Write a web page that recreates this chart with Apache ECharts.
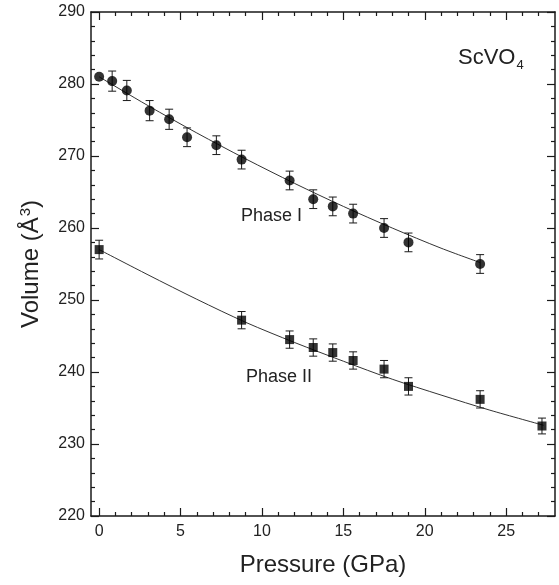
<!DOCTYPE html>
<html>
<head>
<meta charset="utf-8">
<script src="https://cdn.jsdelivr.net/npm/echarts@6/dist/echarts.min.js"></script>
<style>
html,body{margin:0;padding:0;background:#fff;}
#chart{width:559px;height:585px;}
</style>
</head>
<body>
<div id="chart"></div>
<script>
// Phase I (circles)
var phase1P = [0, 0.8, 1.7, 3.1, 4.3, 5.4, 7.2, 8.75, 11.7, 13.15, 14.35, 15.6, 17.5, 19.0, 23.4];
var phase1V = [281.0, 280.4, 279.1, 276.3, 275.1, 272.6, 271.5, 269.5, 266.6, 264.0, 263.0, 262.0, 260.0, 258.0, 255.0];
var phase1Err = [0, 1.4, 1.4, 1.4, 1.4, 1.3, 1.3, 1.3, 1.3, 1.3, 1.3, 1.3, 1.3, 1.3, 1.3];
// Phase II (squares)
var phase2P = [0, 8.75, 11.7, 13.15, 14.35, 15.6, 17.5, 19.0, 23.4, 27.2];
var phase2V = [257.0, 247.2, 244.5, 243.4, 242.7, 241.6, 240.4, 238.0, 236.2, 232.5];
var phase2Err = [1.3, 1.2, 1.2, 1.2, 1.2, 1.2, 1.2, 1.2, 1.2, 1.1];
// Fitted curves
var fit1P = [0, 3, 6, 9, 12, 15, 18, 21, 23.4];
var fit1V = [281.0, 277.0, 273.2, 269.6, 266.2, 263.0, 260.0, 257.2, 255.2];
var fit2P = [0, 3, 6, 9, 12, 15, 18, 21, 24, 27.3];
var fit2V = [257.0, 253.5, 250.1, 246.9, 244.1, 241.5, 239.0, 236.8, 234.7, 232.6];
// Axis ticks
var xMajor = [0, 5, 10, 15, 20, 25];
var xMinor = [1, 2, 3, 4, 6, 7, 8, 9, 11, 12, 13, 14, 16, 17, 18, 19, 21, 22, 23, 24, 26, 27];
var xLabels = ['0', '5', '10', '15', '20', '25'];

function zip(a, b) { return a.map(function (v, i) { return [v, b[i]]; }); }
function zipErr(a, b, e) { return a.map(function (v, i) { return [v, b[i] - e[i], b[i] + e[i]]; }); }

var ink = '#1a1a1a';
var textCol = '#222';
var font = 'Liberation Sans, Arial, Helvetica, sans-serif';

function errRender(params, api) {
  var x = api.value(0);
  var lo = api.coord([x, api.value(1)]);
  var hi = api.coord([x, api.value(2)]);
  if (Math.abs(hi[1] - lo[1]) < 1) return null;
  var w = 4;
  var st = { stroke: ink, lineWidth: 1 };
  return {
    type: 'group',
    children: [
      { type: 'line', shape: { x1: lo[0], y1: lo[1], x2: hi[0], y2: hi[1] }, style: st },
      { type: 'line', shape: { x1: lo[0] - w, y1: lo[1], x2: lo[0] + w, y2: lo[1] }, style: st },
      { type: 'line', shape: { x1: hi[0] - w, y1: hi[1], x2: hi[0] + w, y2: hi[1] }, style: st }
    ]
  };
}

function xAx(pos, major, showLabel) {
  return {
    type: 'value', min: -0.5, max: 28, position: pos, gridIndex: 0,
    axisLine: { show: major, onZero: false, lineStyle: { color: ink, width: 1.5 } },
    axisTick: { show: true, inside: true, length: major ? 8 : 4, customValues: major ? xMajor : xMinor, lineStyle: { color: ink, width: 1.2 } },
    axisLabel: showLabel ? { show: true, customValues: xMajor, formatter: function (v) { var i = xMajor.indexOf(v); return i >= 0 ? xLabels[i] : ''; }, color: textCol, fontSize: 16, fontFamily: font, margin: 8 } : { show: false },
    splitLine: { show: false },
    name: showLabel ? 'Pressure (GPa)' : '',
    nameLocation: 'middle', nameGap: 37,
    nameTextStyle: { color: textCol, fontSize: 24, fontFamily: font }
  };
}
function yAx(pos, showLabel) {
  return {
    type: 'value', min: 220, max: 290, interval: 10, position: pos,
    axisLine: { show: true, onZero: false, lineStyle: { color: ink, width: 1.5 } },
    axisTick: { show: true, inside: true, length: 8, lineStyle: { color: ink, width: 1.2 } },
    minorTick: { show: true, splitNumber: 5, length: 4, lineStyle: { color: ink, width: 1.2 } },
    axisLabel: { show: showLabel, color: textCol, fontSize: 16, fontFamily: font, margin: 6 },
    splitLine: { show: false },
    name: showLabel ? 'Volume (Å{sup|3})' : '',
    nameLocation: 'middle', nameGap: 46, nameRotate: 90,
    nameTextStyle: { color: textCol, fontSize: 24, fontFamily: font,
      rich: { sup: { fontSize: 15, verticalAlign: 'top', padding: [0, 0, 12, 1], color: textCol, fontFamily: font } } }
  };
}

var chart = echarts.init(document.getElementById('chart'), null, { renderer: 'canvas' });
chart.setOption({
  animation: false,
  backgroundColor: '#fff',
  grid: { left: 91, right: 4, top: 12, bottom: 69, containLabel: false },
  xAxis: [xAx('bottom', true, true), xAx('bottom', false, false), xAx('top', true, false), xAx('top', false, false)],
  yAxis: [yAx('left', true), yAx('right', false)],
  series: [
    { type: 'line', data: zip(fit1P, fit1V), smooth: 0.3, showSymbol: false, lineStyle: { color: '#333', width: 1 }, z: 1 },
    { type: 'line', data: zip(fit2P, fit2V), smooth: 0.3, showSymbol: false, lineStyle: { color: '#333', width: 1 }, z: 1 },
    { type: 'custom', data: zipErr(phase1P, phase1V, phase1Err), renderItem: errRender, encode: { x: 0, y: [1, 2] }, z: 2 },
    { type: 'custom', data: zipErr(phase2P, phase2V, phase2Err), renderItem: errRender, encode: { x: 0, y: [1, 2] }, z: 2 },
    { type: 'scatter', data: zip(phase1P, phase1V), symbol: 'circle', symbolSize: 10, itemStyle: { color: '#000' }, z: 3 },
    { type: 'scatter', data: zip(phase2P, phase2V), symbol: 'rect', symbolSize: 9, itemStyle: { color: '#000' }, z: 3 }
  ],
  graphic: [
    { type: 'text', left: 241, top: 207, style: { text: 'Phase I', fill: textCol, font: '18px ' + font } },
    { type: 'text', left: 246, top: 368, style: { text: 'Phase II', fill: textCol, font: '18px ' + font } },
    { type: 'text', left: 458, top: 47, style: { text: 'ScVO{sub|4}', fill: textCol, font: '22px ' + font,
      rich: { sub: { fontSize: 13, fill: textCol, fontFamily: font, padding: [14, 0, 0, 1] } } } }
  ]
});
</script>
</body>
</html>
